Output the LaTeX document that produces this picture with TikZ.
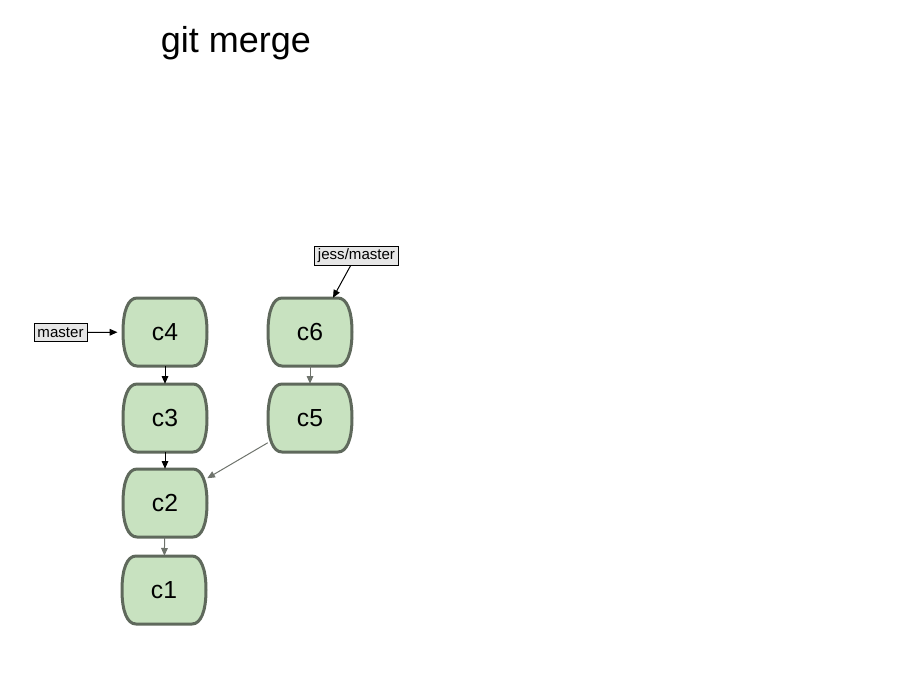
\documentclass[tikz,border=0pt]{standalone}
\usepackage{fontspec}
\setmainfont{Liberation Sans}
\usetikzlibrary{arrows.meta,calc}
\definecolor{commitfill}{RGB}{200,226,192}
\definecolor{commitline}{RGB}{95,105,92}
\definecolor{labelfill}{RGB}{230,230,230}
\definecolor{grayarrow}{RGB}{110,115,108}
\tikzset{
  commitshape/.style={draw=commitline, fill=commitfill, line width=2.25pt},
  commit/.style={minimum width=63pt, minimum height=51pt, inner sep=0pt, text height=12.6pt, text depth=0pt, font=\fontsize{18.5}{20}\selectfont},
  reflabel/.style={draw=black, fill=labelfill, line width=0.7pt, inner xsep=2.6pt, inner ysep=0pt, minimum height=14pt, font=\fontsize{11.3}{13}\selectfont},
  darrow/.style={-{Triangle[length=5.8pt,width=5pt]}, line width=0.75pt, black},
  garrow/.style={-{Triangle[length=5.8pt,width=5pt]}, line width=0.75pt, grayarrow},
}
\begin{document}
\begin{tikzpicture}[x=0.75pt,y=-0.75pt]
\useasboundingbox (0,0) rectangle (897,686);
\node[font=\fontsize{27}{30}\selectfont] (title) at (236,43) {git merge};
\foreach \n/\X/\Y in {c4/165/332, c3/165/418, c2/165/503, c1/164/590, c6/310/332, c5/310/418} {
  \draw[commitshape] (\X-28,\Y-34) -- (\X+28,\Y-34)
    .. controls (\X+37,\Y-34) and (\X+42,\Y-21) .. (\X+42,\Y)
    .. controls (\X+42,\Y+21) and (\X+37,\Y+34) .. (\X+28,\Y+34)
    -- (\X-28,\Y+34)
    .. controls (\X-37,\Y+34) and (\X-42,\Y+21) .. (\X-42,\Y)
    .. controls (\X-42,\Y-21) and (\X-37,\Y-34) .. cycle;
  \node[commit] (\n) at (\X,\Y) {\n};
}
\node[reflabel] (master) at (60.5,332.5) {master};
\node[reflabel] (jess) at (356.5,256) {jess/master};
\draw[darrow, shorten >=4pt] (master) -- (c4);
\draw[darrow] ($(jess.south)+(-6,0)$) -- ($(c6.north)+(23,0)$);
\draw[darrow] (c4) -- (c3);
\draw[darrow] (c3) -- (c2);
\draw[garrow] (c6) -- (c5);
\draw[garrow] (c5) -- (c2);
\draw[garrow] (c2) -- (c1);
\end{tikzpicture}
\end{document}
